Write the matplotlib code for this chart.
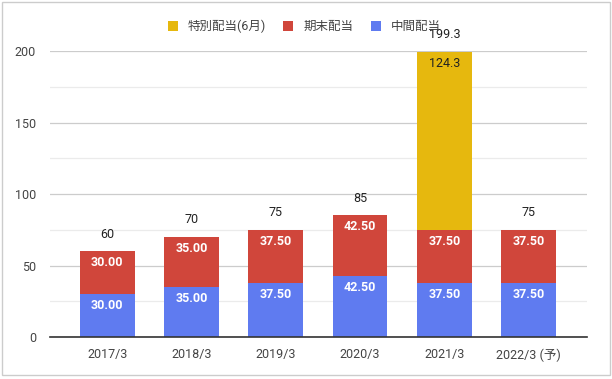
import matplotlib
matplotlib.use("Agg")
import matplotlib.pyplot as plt
from matplotlib.patches import Rectangle

plt.rcParams['font.family'] = ['Roboto', 'Noto Sans CJK JP', 'DejaVu Sans']

categories = ["2017/3", "2018/3", "2019/3", "2020/3", "2021/3", "2022/3 (予)"]
interim = [30.00, 35.00, 37.50, 42.50, 37.50, 37.50]
year_end = [30.00, 35.00, 37.50, 42.50, 37.50, 37.50]
special = [0, 0, 0, 0, 124.3, 0]
totals = ["60", "70", "75", "85", "199.3", "75"]

c_blue = "#5F7BF0"
c_red = "#D0463B"
c_yellow = "#E6B80E"

fig = plt.figure(figsize=(6.12, 3.79), dpi=100)
fig.patches.append(Rectangle((0.004, 0.01), 0.992, 0.985, transform=fig.transFigure,
                             fill=False, edgecolor="#cccccc", linewidth=1))
ax = fig.add_axes([0.0817, 0.1108, 0.877, 0.7546])

x = list(range(len(categories)))
w = 0.65
ax.bar(x, interim, width=w, color=c_blue, label="中間配当", zorder=3)
ax.bar(x, year_end, width=w, bottom=interim, color=c_red, label="期末配当", zorder=3)
bottom2 = [a + b for a, b in zip(interim, year_end)]
sp_idx = [i for i, v in enumerate(special) if v > 0]
ax.bar([x[i] for i in sp_idx], [special[i] for i in sp_idx], width=w,
       bottom=[bottom2[i] for i in sp_idx], color=c_yellow, label="特別配当(6月)", zorder=3)

for i in x:
    ax.text(i, interim[i] - 8, f"{interim[i]:.2f}", ha="center", va="center",
            color="white", fontsize=9, fontweight="bold", zorder=4)
    ax.text(i, bottom2[i] - 8, f"{year_end[i]:.2f}", ha="center", va="center",
            color="white", fontsize=9, fontweight="bold", zorder=4)
    top = bottom2[i] + special[i]
    if special[i] > 0:
        ax.text(i, top - 8, f"{special[i]:.1f}", ha="center", va="center",
                color="#222222", fontsize=9, zorder=4)
    ax.text(i, top + 12, totals[i], ha="center", va="center",
            color="#222222", fontsize=9, zorder=4)

ax.set_ylim(0, 200)
ax.set_xlim(-0.68, 5.69)
ax.set_yticks([0, 50, 100, 150, 200])
ax.set_yticks([25, 75, 125, 175], minor=True)
ax.grid(axis="y", which="major", color="#cccccc", linewidth=0.9, zorder=0)
ax.grid(axis="y", which="minor", color="#ebebeb", linewidth=0.9, zorder=0)
ax.set_xticks(x)
ax.set_xticklabels(categories)
ax.tick_params(axis="both", which="both", length=0, labelsize=9, colors="#444444", pad=8)
ax.tick_params(axis="y", pad=10)
for s in ["top", "right", "left"]:
    ax.spines[s].set_visible(False)
ax.spines["bottom"].set_color("#333333")
ax.spines["bottom"].set_linewidth(1.2)
ax.spines["bottom"].set_zorder(5)

handles, labels = ax.get_legend_handles_labels()
order = [2, 1, 0]
fig.legend([handles[i] for i in order], [labels[i] for i in order], loc="center",
           bbox_to_anchor=(0.497, 0.93), ncol=3, frameon=False, fontsize=9,
           handlelength=0.8, handleheight=0.8, handletextpad=0.8, columnspacing=1.4,
           labelcolor="#444444")

fig.savefig("out.png", dpi=100)
